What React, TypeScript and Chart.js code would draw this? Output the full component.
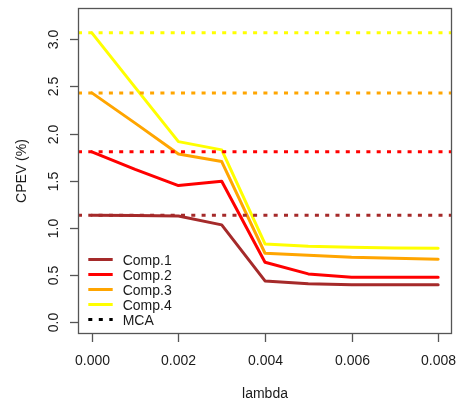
import React, { useEffect, useRef } from "react";
import { Chart, registerables } from "chart.js";

Chart.register(...registerables);

const LAMBDA = [0, 0.001, 0.002, 0.003, 0.004, 0.005, 0.006, 0.007, 0.008];
const COMP1 = [1.132, 1.13, 1.125, 1.03, 0.435, 0.405, 0.396, 0.396, 0.396];
const COMP2 = [1.805, 1.62, 1.447, 1.493, 0.633, 0.51, 0.474, 0.474, 0.474];
const COMP3 = [2.431, 2.11, 1.783, 1.702, 0.729, 0.707, 0.686, 0.676, 0.665];
const COMP4 = [3.068, 2.49, 1.914, 1.826, 0.828, 0.803, 0.793, 0.786, 0.782];
const MCA = [1.132, 1.805, 2.431, 3.068];
const SERIES_NAMES = ["Comp.1", "Comp.2", "Comp.3", "Comp.4"];
const LEGEND_LABELS = ["Comp.1", "Comp.2", "Comp.3", "Comp.4", "MCA"];
const COLORS = ["#A52A2A", "#FF0000", "#FFA500", "#FFFF00"];
const X_TICKS = [0, 0.002, 0.004, 0.006, 0.008];
const X_TICK_LABELS = ["0.000", "0.002", "0.004", "0.006", "0.008"];
const Y_TICKS = [0, 0.5, 1, 1.5, 2, 2.5, 3];
const Y_TICK_LABELS = ["0.0", "0.5", "1.0", "1.5", "2.0", "2.5", "3.0"];
const X_MIN = -0.00032;
const X_MAX = 0.00832;
const Y_MIN = -0.128;
const Y_MAX = 3.332;

const FONT = "14px 'Liberation Sans', Arial, sans-serif";

const rPlot = {
  id: "rPlot",
  afterDraw(chart: any) {
    const ctx = chart.ctx;
    const a = chart.chartArea;
    const xs = chart.scales.x;
    const ys = chart.scales.y;
    ctx.save();
    // box
    ctx.strokeStyle = "#555";
    ctx.lineWidth = 1.3;
    ctx.strokeRect(a.left + 0.5, a.top + 0.5, a.right - a.left - 1, a.bottom - a.top - 1);
    ctx.fillStyle = "#1a1a1a";
    ctx.font = FONT;
    // x ticks
    ctx.textAlign = "center";
    ctx.textBaseline = "alphabetic";
    X_TICKS.forEach((v, i) => {
      const px = Math.round(xs.getPixelForValue(v)) + 0.5;
      ctx.beginPath();
      ctx.moveTo(px, a.bottom);
      ctx.lineTo(px, a.bottom + 8);
      ctx.stroke();
      ctx.fillText(X_TICK_LABELS[i], px, a.bottom + 31);
    });
    // y ticks
    Y_TICKS.forEach((v, i) => {
      const py = Math.round(ys.getPixelForValue(v)) + 0.5;
      ctx.beginPath();
      ctx.moveTo(a.left, py);
      ctx.lineTo(a.left - 8, py);
      ctx.stroke();
      ctx.save();
      ctx.translate(a.left - 20.5, py);
      ctx.rotate(-Math.PI / 2);
      ctx.fillText(Y_TICK_LABELS[i], 0, 0);
      ctx.restore();
    });
    // axis titles
    ctx.fillText("lambda", (a.left + a.right) / 2, 397.5);
    ctx.save();
    ctx.translate(25.5, (a.top + a.bottom) / 2);
    ctx.rotate(-Math.PI / 2);
    ctx.fillText("CPEV (%)", 0, 0);
    ctx.restore();
    // legend
    ctx.textAlign = "left";
    LEGEND_LABELS.forEach((lab, i) => {
      const ry = 259.5 + i * 15;
      ctx.beginPath();
      ctx.lineWidth = 3;
      if (i < 4) {
        ctx.strokeStyle = COLORS[i];
        ctx.setLineDash([]);
      } else {
        ctx.strokeStyle = "#000";
        ctx.setLineDash([4, 6.5]);
      }
      ctx.moveTo(88.3, ry);
      ctx.lineTo(112.7, ry);
      ctx.stroke();
      ctx.setLineDash([]);
      ctx.fillStyle = "#1a1a1a";
      ctx.fillText(lab, 122.7, ry + 5);
    });
    ctx.restore();
  },
};

export default function App() {
  const ref = useRef<HTMLCanvasElement>(null);
  useEffect(() => {
    if (!ref.current) return;
    const comps = [COMP1, COMP2, COMP3, COMP4];
    const compSets = comps.map((arr, i) => ({
      label: SERIES_NAMES[i],
      data: LAMBDA.map((x, j) => ({ x, y: arr[j] })),
      borderColor: COLORS[i],
      borderWidth: 3,
      pointRadius: 0,
      tension: 0,
      borderJoinStyle: "round" as const,
      borderCapStyle: "round" as const,
      order: 4 - i + 1,
    }));
    const mcaSets = MCA.map((v, i) => ({
      label: "MCA " + SERIES_NAMES[i],
      data: [
        { x: X_MIN, y: v },
        { x: X_MAX, y: v },
      ],
      borderColor: COLORS[i],
      borderWidth: 3,
      borderDash: [4, 6.3],
      pointRadius: 0,
      order: 0,
    }));
    const chart = new Chart(ref.current, {
      type: "line",
      data: { datasets: [...mcaSets, ...compSets] as any },
      options: {
        animation: false,
        responsive: true,
        maintainAspectRatio: false,
        layout: { padding: { top: 8, right: 7, left: 0, bottom: 0 } },
        plugins: { legend: { display: false }, tooltip: { enabled: false } },
        scales: {
          x: {
            type: "linear",
            min: X_MIN,
            max: X_MAX,
            grid: { display: false },
            border: { display: false },
            ticks: { display: false },
            afterFit: (s: any) => {
              s.height = 66;
            },
          },
          y: {
            type: "linear",
            min: Y_MIN,
            max: Y_MAX,
            grid: { display: false },
            border: { display: false },
            ticks: { display: false },
            afterFit: (s: any) => {
              s.width = 78;
            },
          },
        },
      },
      plugins: [rPlot],
    });
    return () => chart.destroy();
  }, []);
  return (
    <div style={{ position: "absolute", left: 0, top: 0, width: 459, height: 400, background: "#fff" }}>
      <canvas ref={ref} />
    </div>
  );
}
